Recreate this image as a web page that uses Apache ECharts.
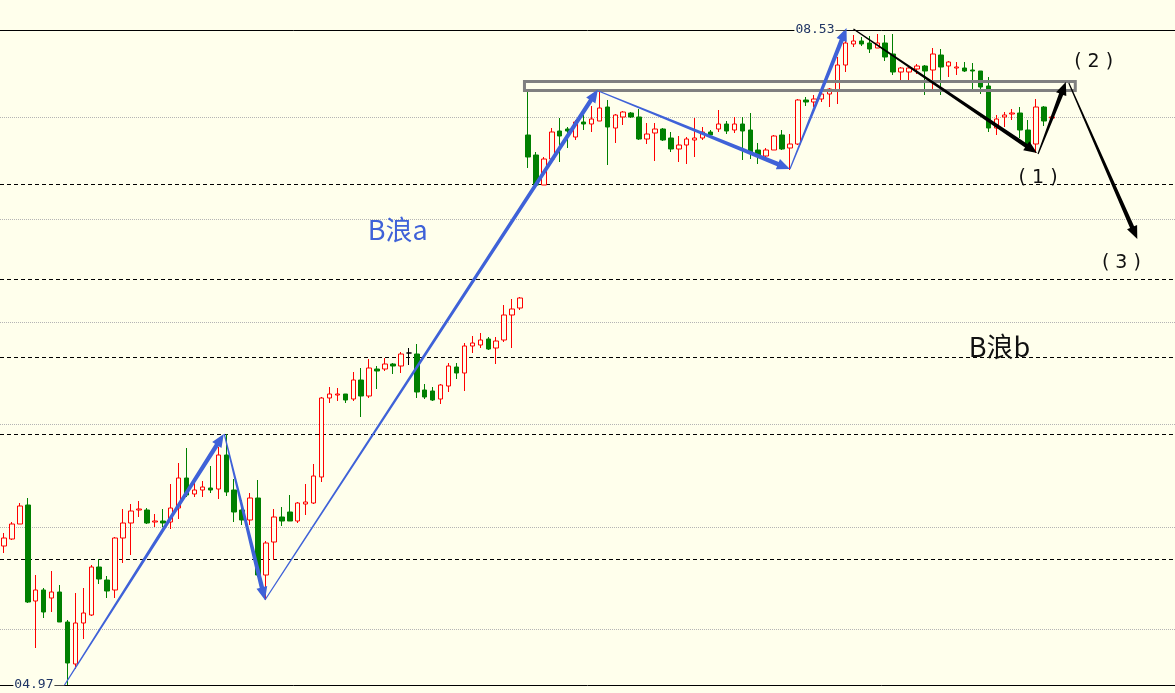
<!DOCTYPE html>
<html>
<head>
<meta charset="utf-8">
<script src="https://cdn.jsdelivr.net/npm/echarts@6/dist/echarts.min.js"></script>
<style>
html,body{margin:0;padding:0;background:#FFFFEC;}
#chart{width:1175px;height:693px;}
</style>
</head>
<body>
<div id="chart"></div>
<script>
// Candles: [open, close, low, high] (price points above the period low)
const candles = [
[139,147,132,152],[146,161,145,163],[161,179,161,182],[180,83,82,187],[84,95,37,110],
[95,73,67,97],[87,93,73,114],[93,63,63,100],[63,22,0,65],[21,62,16,92],
[62,72,46,97],[70,118,69,120],[118,106,101,126],[105,94,87,109],[95,147,87,148],
[147,162,122,176],[162,174,130,181],[175,176,168,184],[175,162,161,177],[163,164,158,171],
[164,162,158,176],[163,177,156,201],[177,207,166,222],[207,190,188,237],[191,195,188,203],
[195,198,188,204],[197,195,192,219],[196,230,186,238],[230,193,189,251],[195,173,163,206],
[175,165,160,185],[165,187,160,192],[187,110,108,205],[110,142,85,144],[143,168,125,176],
[168,164,159,178],[173,164,164,190],[164,182,162,183],[181,183,170,201],[182,209,181,221],
[208,287,203,288],[287,291,282,298],[290,291,284,297],[291,285,282,291],[286,305,284,313],
[305,289,268,317],[289,317,287,326],[316,314,296,319],[316,321,314,327],[321,319,311,322],
[319,331,312,333],[332,332,320,337],[331,293,287,341],[295,288,286,301],[294,285,284,298],
[286,300,281,301],[299,319,293,322],[318,312,306,322],[312,339,294,342],[339,342,332,349],
[340,345,337,352],[346,336,335,348],[337,344,321,348],[345,370,343,380],[370,376,337,386],
[377,387,375,388],[550,528,517,593],[530,500,500,533],[500,526,500,528],[526,553,525,557],
[554,549,523,567],[556,554,537,558],[548,563,545,565],[563,561,555,570],[561,566,553,579],
[564,577,564,595],[578,558,520,585],[557,570,542,571],[568,573,560,574],[572,568,567,573],
[568,546,545,576],[546,551,541,562],[552,556,524,562],[556,545,544,557],[547,536,533,553],
[536,540,523,549],[540,546,521,548],[545,547,528,567],[547,553,545,558],[553,550,549,555],
[556,561,553,575],[561,554,551,564],[555,561,552,568],[561,554,525,568],[555,533,526,572],
[535,530,521,542],[529,535,528,537],[535,549,535,550],[550,536,535,555],[537,541,515,551],
[541,585,540,586],[585,583,579,588],[583,586,578,590],[586,591,583,596],[591,596,578,597],
[595,620,581,628],[620,642,613,655],[641,644,638,650],[644,641,639,648],[642,636,632,649],
[637,642,637,651],[642,628,624,650],[631,613,610,651],[613,617,605,618],[613,617,605,619],
[616,619,611,621],[619,614,590,620],[615,631,593,637],[630,618,590,636],[619,623,608,624],
[617,618,610,623],[617,614,613,623],[615,614,595,622],[614,598,591,614],[599,557,553,608],
[557,566,550,570],[568,570,558,573],[571,572,565,576],[572,555,547,578],[555,539,538,565],
[541,578,532,586],[578,564,559,579],[567,568,565,569]
];
const futureSlots = 15;
const categories = candles.map((_, i) => 'K' + (i + 1))
  .concat(Array.from({length: futureSlots}, (_, i) => 'F' + (i + 1)));

// Horizontal levels
const solidLevels = [0, 655];
const dashedLevels = [501, 406, 328, 251, 126];
const dottedLevels = [568, 466, 363, 261, 158, 56];

// Wave arrows: [fromIndex, fromPrice, toIndex, toPrice]
const blueWave = [
  [7.625, 0, 27.69, 251],
  [27.75, 251, 32.875, 85],
  [32.875, 85, 74.81, 595.5],
  [74.875, 594, 99, 516],
  [99, 516, 106.125, 657]
];
const blackWave = [
  [107, 656, 130.125, 532],
  [130.25, 531, 133.75, 603],
  [134.125, 602, 142.75, 446]
];
// Resistance box: [fromIndex, lowPrice, toIndex, highPrice]
const resistanceZone = [[65.56, 594.5, 134.94, 603.5]];

// Annotations
const waveTexts = ['B浪a', 'B浪b', '( 1 )', '( 2 )', '( 3 )'];
const waveTextPos = [[49.6, 455], [125.4, 338], [130.25, 507], [137.25, 623], [140.75, 422]];
const extremeTexts = ['04.97', '08.53'];
const extremePos = [[7.625, 0], [106, 655]];

const BG = '#FFFFEC';
const BLUE = '#3F62D8';
const waveTextColors = [BLUE, '#111111', '#111111', '#111111', '#111111'];
const waveTextFonts = ['27px "Noto Sans CJK SC"', '27px "Noto Sans CJK SC"',
  '19px "DejaVu Sans"', '19px "DejaVu Sans"', '19px "DejaVu Sans"'];

function arrowRenderer(color) {
  return function (params, api) {
    const a = api.coord([api.value(0), api.value(1)]);
    const b = api.coord([api.value(2), api.value(3)]);
    const dx = b[0] - a[0], dy = b[1] - a[1];
    const L = Math.hypot(dx, dy);
    const ux = dx / L, uy = dy / L;
    const nx = -uy, ny = ux;
    const w0 = 0.6, w1 = 2.2, hl = 13, hw = 5.5;
    const bx = b[0] - ux * hl, by = b[1] - uy * hl;
    const pts = [
      [a[0] + nx * w0, a[1] + ny * w0],
      [bx + nx * w1, by + ny * w1],
      [bx + nx * hw, by + ny * hw],
      [b[0], b[1]],
      [bx - nx * hw, by - ny * hw],
      [bx - nx * w1, by - ny * w1],
      [a[0] - nx * w0, a[1] - ny * w0]
    ];
    return {type: 'polygon', shape: {points: pts}, style: {fill: color}};
  };
}

const markLineData = []
  .concat(solidLevels.map(v => ({yAxis: v, lineStyle: {type: 'solid', color: '#000', width: 1}})))
  .concat(dashedLevels.map(v => ({yAxis: v, lineStyle: {type: [4, 3], color: '#000', width: 1}})))
  .concat(dottedLevels.map(v => ({yAxis: v, lineStyle: {type: [1, 1], color: '#B4B4B4', width: 1}})));

const chart = echarts.init(document.getElementById('chart'), null, {renderer: 'canvas'});
chart.setOption({
  animation: false,
  backgroundColor: BG,
  grid: {left: -4, right: -5, top: 30, bottom: 8},
  xAxis: [
    {type: 'category', data: categories, show: false, boundaryGap: true},
    {type: 'value', min: -0.5, max: 147.5, show: false}
  ],
  yAxis: {type: 'value', min: 0, max: 655, show: false},
  series: [
    {
      type: 'candlestick',
      xAxisIndex: 0,
      data: candles,
      barWidth: 5,
      z: 2,
      itemStyle: {
        color: BG, color0: '#008000',
        borderColor: '#FF0000', borderColor0: '#008000',
        borderColorDoji: '#000000', borderWidth: 1
      },
      emphasis: {disabled: true},
      markLine: {
        z: 1, silent: true, symbol: ['none', 'none'], label: {show: false},
        emphasis: {disabled: true}, animation: false,
        data: markLineData
      }
    },
    {
      type: 'custom', xAxisIndex: 1, clip: false, z: 3, silent: true,
      encode: {x: [0, 2], y: [1, 3]},
      data: resistanceZone,
      renderItem: function (params, api) {
        const a = api.coord([api.value(0), api.value(3)]);
        const b = api.coord([api.value(2), api.value(1)]);
        return {type: 'rect', shape: {x: a[0], y: a[1], width: b[0] - a[0], height: b[1] - a[1]},
          style: {fill: 'none', stroke: '#808080', lineWidth: 3}};
      }
    },
    {
      type: 'custom', xAxisIndex: 1, clip: false, z: 4, silent: true,
      encode: {x: [0, 2], y: [1, 3]},
      data: blueWave, renderItem: arrowRenderer(BLUE)
    },
    {
      type: 'custom', xAxisIndex: 1, clip: false, z: 4, silent: true,
      encode: {x: [0, 2], y: [1, 3]},
      data: blackWave, renderItem: arrowRenderer('#000000')
    },
    {
      type: 'custom', xAxisIndex: 1, clip: false, z: 5, silent: true,
      encode: {x: 0, y: 1},
      data: waveTextPos,
      renderItem: function (params, api) {
        const p = api.coord([api.value(0), api.value(1)]);
        const i = params.dataIndex;
        return {type: 'text', x: p[0], y: p[1],
          style: {text: waveTexts[i], fill: waveTextColors[i], font: waveTextFonts[i],
            align: 'center', verticalAlign: 'middle'}};
      }
    },
    {
      type: 'custom', xAxisIndex: 1, clip: false, z: 5, silent: true,
      encode: {x: 0, y: 1},
      data: extremePos,
      renderItem: function (params, api) {
        const p = api.coord([api.value(0), api.value(1)]);
        const i = params.dataIndex;
        return {type: 'group', children: [
          {type: 'line', shape: {x1: p[0] - 10, y1: Math.round(p[1]) + 0.5, x2: p[0], y2: Math.round(p[1]) + 0.5},
            style: {stroke: '#444', lineWidth: 1}},
          {type: 'text', x: p[0] - 10, y: p[1],
            style: {text: extremeTexts[i], fill: '#1F3564', font: '13px "DejaVu Sans Mono"',
              align: 'right', verticalAlign: 'middle', backgroundColor: BG, padding: [0, 1]}}
        ]};
      }
    }
  ]
});
</script>
</body>
</html>
